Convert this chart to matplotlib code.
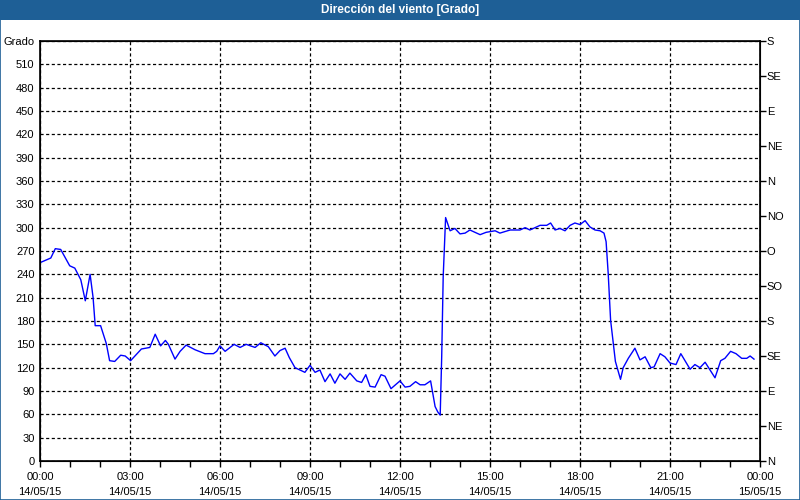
import matplotlib.pyplot as plt
from matplotlib.patches import Rectangle
from matplotlib.ticker import MultipleLocator

# hours since 00:00 14/05/15 and wind direction in degrees
hours = [0.0, 0.36, 0.51, 0.69, 0.99, 1.16, 1.36, 1.51, 1.67, 1.77, 1.84, 2.02,
         2.21, 2.32, 2.49, 2.69, 2.84, 3.02, 3.38, 3.66, 3.84, 4.02, 4.18, 4.28,
         4.5, 4.67, 4.87, 5.17, 5.5, 5.78, 5.89, 6.0, 6.17, 6.47, 6.67, 6.87,
         7.17, 7.36, 7.61, 7.83, 8.0, 8.17, 8.31, 8.5, 8.83, 9.0, 9.17, 9.33,
         9.5, 9.67, 9.83, 10.0, 10.17, 10.33, 10.56, 10.72, 10.86, 11.0, 11.17,
         11.37, 11.5, 11.7, 12.0, 12.17, 12.33, 12.52, 12.67, 12.83, 13.02, 13.08,
         13.17, 13.26, 13.34, 13.39, 13.44, 13.52, 13.67, 13.83, 14.0, 14.17,
         14.33, 14.67, 14.87, 15.17, 15.33, 15.67, 16.0, 16.17, 16.33, 16.5,
         16.67, 16.89, 17.02, 17.17, 17.33, 17.5, 17.67, 17.83, 18.0, 18.17,
         18.33, 18.5, 18.67, 18.8, 18.87, 18.94, 19.02, 19.11, 19.18, 19.35,
         19.44, 19.61, 19.83, 20.0, 20.17, 20.36, 20.47, 20.67, 20.83, 21.0,
         21.2, 21.36, 21.67, 21.83, 22.0, 22.17, 22.5, 22.69, 22.83, 23.02,
         23.2, 23.39, 23.56, 23.67, 23.8]
grados = [255, 261, 273, 272, 251, 248, 233, 206, 240, 210, 174, 174,
          151, 129, 128, 136, 135, 129, 144, 146, 163, 148, 155, 150,
          131, 141, 149, 143, 138, 138, 141, 148, 141, 150, 146, 150,
          146, 152, 147, 135, 142, 145, 133, 120, 114, 123, 114, 117,
          102, 112, 100, 112, 105, 113, 103, 101, 111, 96, 95,
          111, 109, 93, 103, 95, 96, 102, 98, 98, 103, 90,
          70, 63, 59, 134, 237, 313, 296, 299, 292, 293,
          297, 291, 294, 296, 293, 297, 297, 300, 297, 300,
          303, 303, 306, 297, 299, 296, 303, 306, 304, 309,
          301, 297, 296, 293, 282, 241, 181, 151, 128, 105,
          120, 132, 145, 130, 134, 120, 121, 138, 134, 126,
          124, 138, 118, 124, 120, 127, 107, 129, 132, 141,
          138, 132, 132, 135, 131]

x_ticks = [0, 3, 6, 9, 12, 15, 18, 21, 24]
x_labels = ["00:00\n14/05/15", "03:00\n14/05/15", "06:00\n14/05/15",
            "09:00\n14/05/15", "12:00\n14/05/15", "15:00\n14/05/15",
            "18:00\n14/05/15", "21:00\n14/05/15", "00:00\n15/05/15"]
y_ticks = list(range(0, 541, 30))
y_labels = [str(v) for v in y_ticks[:-1]] + ["Grado"]
rumbos = ["N", "NE", "E", "SE", "S", "SO", "O", "NO", "N", "NE", "E", "SE", "S"]

plt.rcParams['font.family'] = ['Liberation Sans', 'DejaVu Sans']
plt.rcParams['font.size'] = 8

fig = plt.figure(figsize=(8, 5), dpi=100)

# title bar and window border
fig.patches.append(Rectangle((0, 0.96), 1, 0.04, transform=fig.transFigure,
                             facecolor='#1E5F96', edgecolor='none', zorder=0))
fig.patches.append(Rectangle((0.0006, 0.001), 0.9988, 0.998, transform=fig.transFigure,
                             facecolor='none', edgecolor='#1E5F96', lw=1.2, zorder=5))
fig.text(0.5, 0.98, "Dirección del viento [Grado]", color='white',
         fontweight='bold', fontsize=8.5, ha='center', va='center')

ax = fig.add_axes([0.05, 0.078, 0.90, 0.84])
ax.plot(hours, grados, color='#0000FF', lw=1)

ax.set_xlim(0, 24)
ax.set_ylim(0, 540)
ax.set_xticks(x_ticks)
ax.set_xticklabels(x_labels, linespacing=1.6)
ax.xaxis.set_minor_locator(MultipleLocator(1))
ax.tick_params(axis='x', which='both', direction='out', length=4, width=1, pad=4)
ax.set_yticks(y_ticks)
ax.set_yticklabels(y_labels)
ax.tick_params(axis='y', length=0, pad=4)

ax.grid(True, color='black', linestyle=(0, (2.5, 2)), lw=0.9)
for s in ax.spines.values():
    s.set_color('black')
    s.set_linewidth(1.2)

# compass points on the right
ax2 = ax.twinx()
ax2.set_ylim(0, 540)
ax2.set_yticks(list(range(0, 541, 45)))
ax2.set_yticklabels(rumbos)
ax2.tick_params(axis='y', direction='out', length=4, width=1, pad=1)

plt.savefig("out.png", dpi=100)
